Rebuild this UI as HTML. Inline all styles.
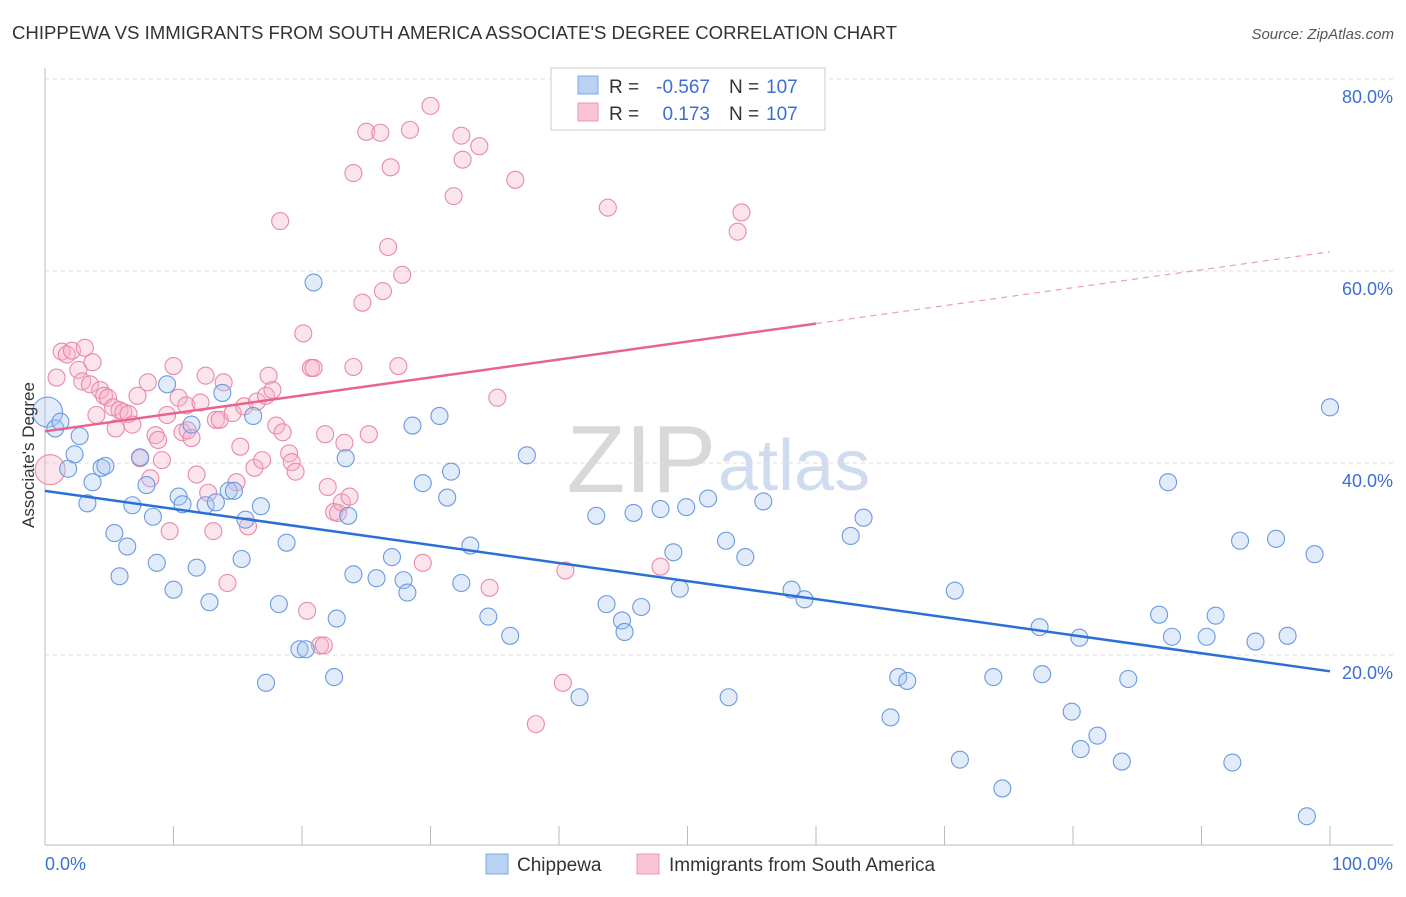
<!DOCTYPE html>
<html><head><meta charset="utf-8"><style>
body{margin:0;background:#fff;font-family:"Liberation Sans",sans-serif;}
svg text{font-family:"Liberation Sans",sans-serif;}
</style></head><body>
<svg id="chart" width="1406" height="892">
<text x="12" y="39" font-size="18" fill="#333" textLength="885" lengthAdjust="spacingAndGlyphs">CHIPPEWA VS IMMIGRANTS FROM SOUTH AMERICA ASSOCIATE'S DEGREE CORRELATION CHART</text>
<text x="1394" y="39" font-size="15" fill="#555" font-style="italic" text-anchor="end">Source: ZipAtlas.com</text>
<text x="716" y="492" font-size="96" fill="#d8d8d8" text-anchor="end" font-family="Liberation Serif">ZIP</text>
<text x="718" y="490" font-size="72" fill="#cfdcf0">atlas</text>
<g id="grid"></g><g id="axes"></g><g id="pts"></g><g id="trends"></g>
<text transform="translate(34,455) rotate(-90)" font-size="17" fill="#333" text-anchor="middle">Associate's Degree</text>
<g>
<rect x="551" y="68" width="274" height="62" fill="#fff" stroke="#ccc"/>
<rect x="578" y="76" width="20" height="18" fill="#b8d2f3" stroke="#7ea6e0"/>
<text x="609" y="93" font-size="19" fill="#333">R =</text>
<text x="710" y="93" font-size="19" fill="#3b6fd4" text-anchor="end">-0.567</text>
<text x="729" y="93" font-size="19" fill="#333">N =</text>
<text x="766" y="93" font-size="19" fill="#3b6fd4">107</text>
<rect x="578" y="103" width="20" height="18" fill="#f8c4d4" stroke="#ea98b2"/>
<text x="609" y="120" font-size="19" fill="#333">R =</text>
<text x="710" y="120" font-size="19" fill="#3b6fd4" text-anchor="end">0.173</text>
<text x="729" y="120" font-size="19" fill="#333">N =</text>
<text x="766" y="120" font-size="19" fill="#3b6fd4">107</text>
</g>
<g>
<rect x="486" y="854" width="22" height="20" fill="#b8d2f3" stroke="#7ea6e0"/>
<text x="517" y="871" font-size="19" fill="#333">Chippewa</text>
<rect x="637" y="854" width="22" height="20" fill="#f8c4d4" stroke="#ea98b2"/>
<text x="669" y="871" font-size="19" fill="#333">Immigrants from South America</text>
</g>
</svg>
<script>
const xTickLabels=["0.0%","100.0%"];
const yTicks=[20,40,60,80];
const blueX=[0.2,0.8,1.2,1.8,2.3,2.7,3.3,3.7,4.4,4.7,5.4,5.8,6.4,6.8,7.4,7.9,8.4,8.7,9.5,10.0,10.4,10.7,11.4,11.8,12.5,12.8,13.3,13.8,14.3,14.7,15.3,15.6,16.2,16.8,17.2,18.2,18.8,19.8,20.3,20.9,22.5,22.7,23.4,23.6,24.0,25.8,27.0,27.9,28.2,28.6,29.4,30.7,31.3,31.6,32.4,33.1,34.5,36.2,37.5,41.6,42.9,43.7,44.9,45.1,45.8,46.4,47.9,48.9,49.4,49.9,51.6,53.0,53.2,54.5,55.9,58.1,59.1,62.7,63.7,65.8,66.4,67.1,70.8,71.2,73.8,74.5,77.4,77.6,79.9,80.5,80.6,81.9,83.8,84.3,86.7,87.4,87.7,90.4,91.1,92.4,93.0,94.2,95.8,96.7,98.8,98.2,100];
const blueY=[45.3,43.6,44.3,39.4,40.9,42.8,35.8,38.0,39.5,39.7,32.7,28.2,31.3,35.6,40.6,37.7,34.4,29.6,48.2,26.8,36.5,35.7,44.0,29.1,35.6,25.5,35.9,47.3,37.1,37.1,30.0,34.1,44.9,35.5,17.1,25.3,31.7,20.6,20.6,58.8,17.7,23.8,40.5,34.5,28.4,28.0,30.2,27.8,26.5,43.9,37.9,44.9,36.4,39.1,27.5,31.4,24.0,22.0,40.8,15.6,34.5,25.3,23.6,22.4,34.8,25.0,35.2,30.7,26.9,35.4,36.3,31.9,15.6,30.2,36.0,26.8,25.8,32.4,34.3,13.5,17.7,17.3,26.7,9.1,17.7,6.1,22.9,18.0,14.1,21.8,10.2,11.6,8.9,17.5,24.2,38.0,21.9,21.9,24.1,8.8,31.9,21.4,32.1,22.0,30.5,3.2,45.8];
const pinkX=[0.4,0.9,1.3,1.7,2.1,2.6,3.1,2.9,3.5,3.7,4.0,4.3,4.6,4.9,5.3,5.5,5.8,6.1,6.5,6.8,7.2,7.4,8.0,8.2,8.6,8.8,9.1,9.5,9.7,10.0,10.4,10.7,11.0,11.1,11.4,11.8,12.1,12.5,12.7,13.1,13.3,13.6,13.9,14.2,14.6,14.9,15.2,15.5,15.8,16.3,16.5,16.9,17.2,17.4,17.7,18.0,18.3,18.5,19.0,19.2,19.5,20.1,20.4,20.7,20.9,21.4,21.7,21.8,22.0,22.5,22.8,23.1,23.3,23.7,24.0,24.7,25.0,24.0,25.2,26.1,26.3,26.7,26.9,27.5,27.8,28.4,29.4,30.0,31.8,32.4,32.5,33.8,34.6,35.2,36.6,38.2,40.3,40.5,43.8,47.9,53.9,54.2];
const pinkY=[39.3,48.9,51.6,51.3,51.7,49.7,52.0,48.5,48.2,50.5,45.0,47.6,47.0,46.8,45.8,43.6,45.5,45.3,45.1,44.0,47.0,40.5,48.4,38.4,42.9,42.4,40.3,45.0,32.9,50.1,46.8,43.2,46.0,43.4,42.6,38.8,46.3,49.1,36.9,32.9,44.5,44.5,48.4,27.5,45.2,38.0,41.7,45.9,33.4,39.5,46.4,40.3,47.0,49.1,47.6,43.9,65.2,43.2,41.0,40.1,39.1,53.5,24.6,49.9,49.9,21.0,21.0,43.0,37.5,34.9,34.8,35.9,42.1,36.5,50.0,56.7,74.5,70.2,43.0,74.4,57.9,62.5,70.8,50.1,59.6,74.7,29.6,77.2,67.8,74.1,71.6,73.0,27.0,46.8,69.5,12.8,17.1,28.8,66.6,29.2,64.1,66.1];
const blueTrend=[37.1,18.3];
const pinkTrend=[43.3,62.0];
const pinkSolidEnd=60;
const NS="http://www.w3.org/2000/svg";
const sx=v=>45+v*12.85, sy=v=>847-v*9.6;
function mk(tag,attrs,parent){const e=document.createElementNS(NS,tag);for(const k in attrs)e.setAttribute(k,attrs[k]);parent.appendChild(e);return e;}
const grid=document.getElementById('grid'),axes=document.getElementById('axes'),pts=document.getElementById('pts'),tr=document.getElementById('trends');
yTicks.forEach(t=>{
 const l=mk('line',{x1:45,x2:1393,y1:sy(t),y2:sy(t),stroke:'#ddd','stroke-dasharray':'4,4'},grid);
 
 
 const tx=mk('text',{x:1393,y:sy(t)+24,'font-size':18,fill:'#3b6fd4','text-anchor':'end'},grid);
 tx.textContent=t.toFixed(1)+'%';
 
 
});
const xa=mk('line',{x1:45,x2:1393,y1:845,y2:845,stroke:'#bbb'},axes);


const ya=mk('line',{x1:45,x2:45,y1:68,y2:845,stroke:'#bbb'},axes);


for(let i=0;i<=10;i++){const t=mk('line',{x1:sx(i*10),x2:sx(i*10),y1:826,y2:845,stroke:'#bbb'},axes);
 
 }
[[0,'start',45],[1,'end',1393]].forEach(([i,a,x])=>{const t=mk('text',{x:x,y:870,'font-size':18,fill:'#3b6fd4','text-anchor':a},axes);t.textContent=xTickLabels[i];
 
 });
function dots(X,Y,fill,stroke,name){X.forEach((x,i)=>{const r=(i==0&&x<1)?15:8.5;
 const c=mk('circle',{cx:sx(x),cy:sy(Y[i]),r:r,fill:fill,'fill-opacity':0.35,stroke:stroke,'stroke-width':1.1},pts);
 
 });}
dots(pinkX,pinkY,'#f5b3c8','#e88aa8','pink-point');
dots(blueX,blueY,'#a9c7f0','#6a9ae0','blue-point');
const bl=mk('line',{x1:sx(0),y1:sy(blueTrend[0]),x2:sx(100),y2:sy(blueTrend[1]),stroke:'#2a6fd6','stroke-width':2.5},tr);


const pm=pinkTrend[0]+(pinkTrend[1]-pinkTrend[0])*pinkSolidEnd/100;
const pl=mk('line',{x1:sx(0),y1:sy(pinkTrend[0]),x2:sx(pinkSolidEnd),y2:sy(pm),stroke:'#e8638f','stroke-width':2.5},tr);


const pd=mk('line',{x1:sx(pinkSolidEnd),y1:sy(pm),x2:sx(100),y2:sy(pinkTrend[1]),stroke:'#e8a0b8','stroke-width':1.2,'stroke-dasharray':'6,5'},tr);


</script>
</body></html>
